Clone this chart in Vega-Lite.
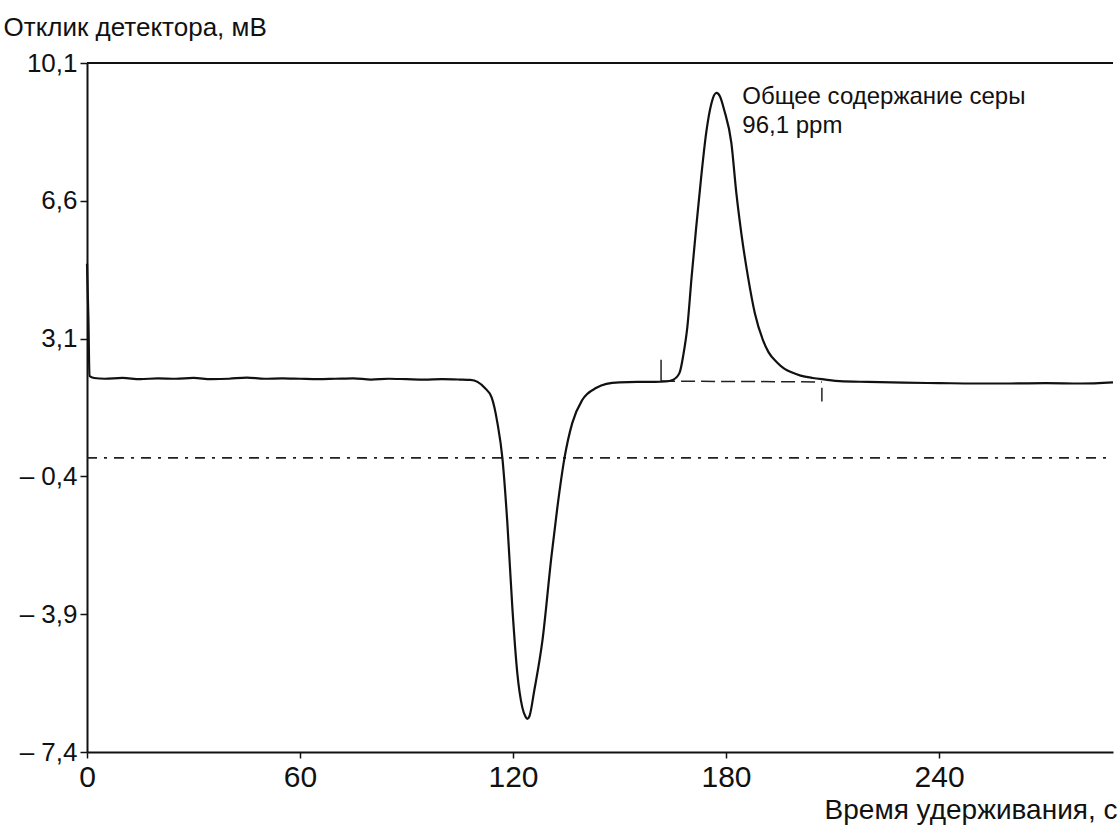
{
  "$schema": "https://vega.github.io/schema/vega-lite/v6.json",
  "width": 1026,
  "height": 689,
  "autosize": {"type": "none"},
  "padding": {"left": 87, "top": 63, "right": 7, "bottom": 74},
  "background": "white",
  "config": {
    "view": {"stroke": null},
    "font": "Liberation Sans",
    "axis": {"grid": false, "domainColor": "#111", "domainWidth": 2, "tickColor": "#111", "tickWidth": 1.5, "labelColor": "#111", "titleColor": "#111", "titleFontWeight": "normal"}
  },
  "datasets": {
    "signal": [
      {"t": 0, "v": 5.0}, {"t": 0.4, "v": 3.6}, {"t": 0.7, "v": 2.15}, {"t": 2, "v": 2.1}, {"t": 5, "v": 2.08},
      {"t": 10, "v": 2.1}, {"t": 15, "v": 2.07}, {"t": 20, "v": 2.09}, {"t": 25, "v": 2.08}, {"t": 30, "v": 2.1},
      {"t": 35, "v": 2.07}, {"t": 40, "v": 2.08}, {"t": 45, "v": 2.11}, {"t": 50, "v": 2.08}, {"t": 55, "v": 2.09},
      {"t": 60, "v": 2.08}, {"t": 65, "v": 2.07}, {"t": 70, "v": 2.08}, {"t": 75, "v": 2.09}, {"t": 80, "v": 2.06},
      {"t": 85, "v": 2.08}, {"t": 90, "v": 2.07}, {"t": 95, "v": 2.06}, {"t": 100, "v": 2.07}, {"t": 105, "v": 2.06},
      {"t": 108, "v": 2.05}, {"t": 110, "v": 2.0}, {"t": 112, "v": 1.85}, {"t": 114, "v": 1.6}, {"t": 115.6, "v": 0.96},
      {"t": 117, "v": 0.07}, {"t": 118.4, "v": -1.58}, {"t": 119.8, "v": -3.72}, {"t": 121.2, "v": -5.39}, {"t": 122.6, "v": -6.26},
      {"t": 123.5, "v": -6.5}, {"t": 124, "v": -6.56}, {"t": 124.6, "v": -6.5}, {"t": 126, "v": -5.83}, {"t": 128.3, "v": -4.56},
      {"t": 130.8, "v": -2.45}, {"t": 132.5, "v": -1.18}, {"t": 134.5, "v": 0.07}, {"t": 136.7, "v": 0.96}, {"t": 139.5, "v": 1.54},
      {"t": 143.5, "v": 1.85}, {"t": 146.3, "v": 1.95}, {"t": 150, "v": 1.99}, {"t": 155, "v": 2.0}, {"t": 160, "v": 2.0},
      {"t": 163, "v": 2.01}, {"t": 165, "v": 2.05}, {"t": 166.9, "v": 2.23}, {"t": 168, "v": 2.7}, {"t": 169.1, "v": 3.39},
      {"t": 170.3, "v": 4.66}, {"t": 171.6, "v": 5.93}, {"t": 173, "v": 7.2}, {"t": 174.4, "v": 8.32}, {"t": 175.9, "v": 9.08},
      {"t": 177.3, "v": 9.34}, {"t": 178.3, "v": 9.25}, {"t": 179.5, "v": 8.9}, {"t": 181.5, "v": 8.07}, {"t": 182.9, "v": 6.8},
      {"t": 184.3, "v": 5.78}, {"t": 186.2, "v": 4.66}, {"t": 188.1, "v": 3.75}, {"t": 190.4, "v": 3.06}, {"t": 192, "v": 2.75},
      {"t": 194.3, "v": 2.5}, {"t": 196.5, "v": 2.33}, {"t": 198.8, "v": 2.23}, {"t": 201, "v": 2.16}, {"t": 204.4, "v": 2.1},
      {"t": 208, "v": 2.06}, {"t": 212, "v": 2.02}, {"t": 220, "v": 2.0}, {"t": 230, "v": 1.98}, {"t": 240, "v": 1.97},
      {"t": 250, "v": 1.96}, {"t": 260, "v": 1.96}, {"t": 270, "v": 1.97}, {"t": 280, "v": 1.96}, {"t": 289, "v": 1.99}
    ],
    "baseline": [{"t": 161.7, "v": 2.02}, {"t": 207, "v": 2.0}],
    "markers": [{"t": 161.7, "v1": 2.0, "v2": 2.56}, {"t": 207, "v1": 1.85, "v2": 1.5}],
    "zero": [{"t": 0, "v": 0.07}, {"t": 289, "v": 0.07}],
    "notes": [{"t": 184.6, "v": 9.24, "label": "Общее содержание серы"}, {"t": 184.6, "v": 8.5, "label": "96,1 ppm"}]
  },
  "layer": [
    {
      "data": {"name": "zero"},
      "mark": {"type": "line", "color": "#222", "strokeWidth": 1.6, "strokeDash": [10, 7, 3, 7]},
      "encoding": {
        "x": {"field": "t", "type": "quantitative", "scale": {"domain": [0, 289], "nice": false, "zero": false},
          "axis": {"values": [0, 60, 120, 180, 240], "labelFont": "Liberation Sans Narrow, Liberation Sans", "labelFontSize": 30, "labelPadding": 4, "tickSize": 6,
            "title": "Время удерживания, с", "titleFont": "Liberation Sans Narrow, Liberation Sans", "titleFontSize": 28, "titleAlign": "right", "titleX": 1030, "titleY": 58, "titleBaseline": "middle", "labelFlush": false}},
        "y": {"field": "v", "type": "quantitative", "scale": {"domain": [-7.4, 10.1], "nice": false, "zero": false},
          "axis": {"values": [-7.4, -3.9, -0.4, 3.1, 6.6, 10.1], "labelFontSize": 26, "labelPadding": 3, "tickSize": 7,
            "labelExpr": "datum.value < 0 ? '– ' + replace(format(abs(datum.value), '.1f'), '.', ',') : replace(format(datum.value, '.1f'), '.', ',')",
            "title": "Отклик детектора, мВ", "titleFontSize": 26, "titleAngle": 0, "titleAlign": "left", "titleBaseline": "middle", "titleX": -84, "titleY": -36}}
      }
    },
    {
      "data": {"values": [{"y": 10.1}]},
      "mark": {"type": "rule", "color": "#111", "strokeWidth": 2},
      "encoding": {"y": {"field": "y", "type": "quantitative"}}
    },
    {
      "data": {"name": "baseline"},
      "mark": {"type": "line", "color": "#222", "strokeWidth": 1.5, "strokeDash": [14, 6]},
      "encoding": {"x": {"field": "t", "type": "quantitative"}, "y": {"field": "v", "type": "quantitative"}}
    },
    {
      "data": {"name": "markers"},
      "mark": {"type": "rule", "color": "#222", "strokeWidth": 1.5},
      "encoding": {"x": {"field": "t", "type": "quantitative"}, "y": {"field": "v1", "type": "quantitative"}, "y2": {"field": "v2"}}
    },
    {
      "data": {"name": "signal"},
      "mark": {"type": "line", "color": "#111", "strokeWidth": 2.2, "interpolate": "monotone"},
      "encoding": {"x": {"field": "t", "type": "quantitative"}, "y": {"field": "v", "type": "quantitative"}}
    },
    {
      "data": {"name": "notes"},
      "mark": {"type": "text", "align": "left", "baseline": "middle", "fontSize": 24, "color": "#111"},
      "encoding": {"x": {"field": "t", "type": "quantitative"}, "y": {"field": "v", "type": "quantitative"}, "text": {"field": "label"}}
    }
  ]
}
